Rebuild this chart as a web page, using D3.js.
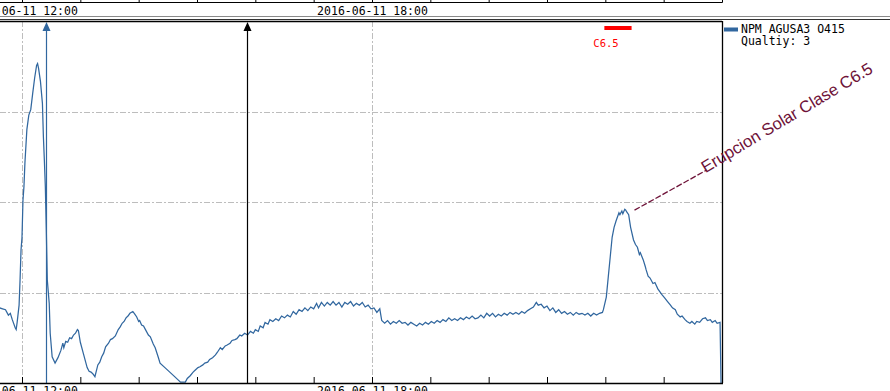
<!DOCTYPE html>
<html>
<head>
<meta charset="utf-8">
<script src="https://cdn.jsdelivr.net/npm/d3@7"></script>
<style>
  html, body { margin: 0; padding: 0; background: #fff; }
  svg { display: block; }
</style>
</head>
<body>
<svg id="chart" width="890" height="391"></svg>
<script>
// ---------- DATA ----------
const day = "2016-06-11";
const times = [
  "11:37","11:40","11:43","11:46","11:48","11:50","11:53","11:54","11:55","11:57",
  "11:58","11:59","12:00","12:01","12:02","12:03","12:05","12:07","12:09","12:11",
  "12:13","12:15","12:16","12:17","12:19","12:21","12:22","12:23","12:24","12:25",
  "12:26","12:28","12:29","12:31","12:34","12:37","12:40","12:42","12:43","12:45",
  "12:47","12:49","12:51","12:53","12:55","12:57","12:58","13:00","13:03","13:07",
  "13:09","13:11","13:13","13:15","13:18","13:20","13:22","13:24","13:26","13:29",
  "13:31","13:33","13:36","13:39","13:41","13:43","13:45","13:47","13:49","13:51",
  "13:54","13:56","13:58","14:00","14:01","14:03","14:05","14:07","14:10","14:12",
  "14:15","14:17","14:20","14:22","14:27","14:32","14:37","14:40","14:43","14:48",
  "14:50","14:53","14:56","14:58","15:01","15:03","15:06","15:08","15:11","15:13",
  "15:16","15:19","15:21","15:24","15:26","15:29","15:31","15:34","15:36","15:39",
  "15:41","15:44","15:46","15:49","15:52","15:55","15:58","16:00","16:03","16:05",
  "16:08","16:10","16:13","16:15","16:18","16:21","16:24","16:27","16:30","16:33",
  "16:36","16:39","16:42","16:45","16:48","16:51","16:54","16:57","17:00","17:03",
  "17:05","17:08","17:11","17:14","17:17","17:20","17:23","17:26","17:29","17:32",
  "17:35","17:38","17:41","17:44","17:47","17:50","17:53","17:56","17:59","18:02",
  "18:05","18:08","18:10","18:13","18:16","18:19","18:22","18:25","18:28","18:31",
  "18:34","18:37","18:40","18:43","18:46","18:49","18:52","18:55","18:58","19:01",
  "19:04","19:07","19:10","19:13","19:16","19:19","19:22","19:25","19:28","19:31",
  "19:34","19:37","19:40","19:43","19:46","19:49","19:52","19:55","19:58","20:01",
  "20:04","20:07","20:10","20:13","20:16","20:19","20:22","20:25","20:28","20:31",
  "20:34","20:37","20:40","20:43","20:46","20:49","20:51","20:54","20:57","21:00",
  "21:03","21:06","21:09","21:12","21:15","21:18","21:21","21:24","21:27","21:30",
  "21:33","21:36","21:39","21:42","21:45","21:48","21:51","21:54","21:57","21:58",
  "22:01","22:03","22:05","22:07","22:09","22:11","22:12","22:14","22:15","22:17",
  "22:18","22:20","22:21","22:22","22:24","22:26","22:29","22:31","22:33","22:35",
  "22:36","22:39","22:41","22:42","22:44","22:46","22:49","22:51","22:54","22:56",
  "22:58","23:01","23:04","23:07","23:09","23:12","23:14","23:17","23:19","23:22",
  "23:24","23:27","23:29","23:32","23:34","23:37","23:40","23:43","23:45","23:48",
  "23:50","23:53","23:55","23:58","23:59"
];
const amplitude = [
  8.3,8.2,8.1,7.5,7.7,7.0,6.1,5.9,6.7,8.6,
  11.4,14.7,16.1,20.2,21.7,24.3,28.0,29.6,30.2,32.0,
  33.7,35.1,35.3,34.8,33.3,30.9,27.2,24.6,21.7,16.9,
  11.4,8.8,5.5,2.9,2.2,2.8,3.6,4.4,3.9,4.6,
  4.5,5.0,4.9,5.3,5.5,5.9,5.8,4.5,3.3,1.7,
  1.3,1.2,1.0,0.7,2.0,2.3,2.9,3.3,4.0,4.4,
  4.8,4.9,5.2,5.9,6.2,6.6,6.8,7.2,7.4,7.7,
  7.9,7.6,7.3,6.8,6.9,6.4,6.3,5.9,5.3,5.1,
  4.3,3.9,2.9,2.2,1.7,1.2,0.7,0.4,0.1,0.1,
  0.5,0.8,1.2,1.4,1.7,1.8,2.0,2.2,2.3,2.6,
  2.8,3.1,3.4,3.9,3.7,4.1,4.2,4.4,4.7,4.8,
  4.9,5.3,5.2,5.5,5.3,5.7,5.5,5.9,5.7,6.3,
  6.1,6.7,6.5,7.0,6.8,7.1,6.9,7.4,7.2,7.5,
  7.3,7.9,7.6,8.1,7.9,8.3,8.0,8.4,8.2,8.8,
  8.3,8.9,8.5,8.9,8.6,9.0,8.6,8.9,8.4,8.9,
  8.7,9.0,8.5,8.8,8.6,8.9,8.4,8.6,8.2,8.3,
  7.8,8.2,6.9,6.6,6.9,6.5,6.8,6.6,6.9,6.6,
  6.7,6.4,6.7,6.5,6.3,6.6,6.4,6.7,6.5,6.8,
  6.6,6.9,6.7,7.0,6.8,7.2,6.9,7.1,6.9,7.2,
  7.0,7.3,7.1,7.4,7.1,7.2,7.5,7.2,7.7,7.4,
  7.7,7.3,7.6,7.4,7.7,7.5,7.8,7.6,7.8,7.6,
  7.9,7.7,8.0,8.2,8.4,8.9,8.6,8.7,8.3,8.5,
  8.0,8.3,7.8,8.1,7.7,7.9,7.6,7.8,7.5,7.8,
  7.6,7.7,7.5,7.7,7.4,7.7,7.5,7.7,7.8,8.1,
  9.5,11.7,13.9,16.1,17.2,17.9,18.2,18.8,18.6,19.0,
  18.7,19.2,19.1,18.9,18.6,17.2,15.8,15.3,15.0,14.2,
  14.4,13.6,12.9,12.5,11.8,11.6,11.0,11.1,10.4,10.1,
  9.8,9.4,9.0,8.6,8.3,8.1,7.6,7.3,7.4,7.0,
  6.8,6.6,6.8,6.5,6.8,6.7,7.1,7.2,6.9,7.0,
  6.7,6.9,6.6,6.7,0.0
];
const seriesName = "NPM AGUSA3 O415";
const qualityLabel = "Qualtiy: 3";
const markerTimes = ["12:25", "15:51"];      // blue, black
const flareStart = "21:59", flareEnd = "22:27";
const flareLabel = "C6.5";
const annotationTime = "22:30", annotationValue = 19.1;
const annotationText = "Erupcion Solar Clase C6.5";
const labelHours = [12, 18];
const yGrid = [10, 20, 30];

// ---------- SETUP ----------
const W = 890, H = 391;
const pL = 0, pR = 722, pT = 21, pB = 383;
const parse = d3.utcParse("%Y-%m-%d %H:%M");
const T = t => parse(day + " " + t);
const fmt = d3.utcFormat("%Y-%m-%d %H:%M");
const mono = "'DejaVu Sans Mono', monospace";
const blue = "#31679f";

const x = d3.scaleUtc()
  .domain([new Date("2016-06-11T11:37:22Z"), new Date("2016-06-12T00:00:00Z")])
  .range([pL, pR]);
const y = d3.scaleLinear().domain([0, 40]).range([pB, pT]);

const svg = d3.select("#chart");
svg.append("rect").attr("width", W).attr("height", H).attr("fill", "#fff");

const data = times.map((t, i) => ({ t: T(t), v: amplitude[i] }));
const hourTicks = d3.utcHour.range(d3.utcHour.ceil(x.domain()[0]), x.domain()[1]);
const labelFmt = d => labelHours.includes(d.getUTCHours()) ? fmt(d) : "";

// ---------- UPPER PANEL REMNANT ----------
const topAxis = d3.axisBottom(x).tickValues(hourTicks).tickSize(-3).tickPadding(5).tickFormat(labelFmt);
const gTop = svg.append("g").attr("transform", "translate(0,2)").call(topAxis);
gTop.select(".domain").remove();
gTop.selectAll(".tick line").attr("stroke", "#000");
gTop.selectAll("text").attr("font-family", mono).attr("font-size", "11.5px").attr("fill", "#000");
svg.append("line").attr("x1", 0).attr("x2", pR + 0.5).attr("y1", 2.5).attr("y2", 2.5).attr("stroke", "#000");
svg.append("line").attr("x1", pR + 0.5).attr("x2", pR + 0.5).attr("y1", 0).attr("y2", 2.5).attr("stroke", "#000");

// separator lines
svg.append("line").attr("x1", 0).attr("x2", W).attr("y1", 16.5).attr("y2", 16.5).attr("stroke", "#8a8a8a");
svg.append("line").attr("x1", 0).attr("x2", W).attr("y1", 19.5).attr("y2", 19.5).attr("stroke", "#333");

// ---------- GRID ----------
const dash = "6,2,2,2";
svg.append("g").selectAll("line").data(yGrid).join("line")
  .attr("x1", pL).attr("x2", pR)
  .attr("y1", d => Math.round(y(d)) + 0.5).attr("y2", d => Math.round(y(d)) + 0.5)
  .attr("stroke", "#bdbdbd").attr("stroke-dasharray", dash);
svg.append("g").selectAll("line").data(hourTicks.filter(d => labelHours.includes(d.getUTCHours()))).join("line")
  .attr("x1", d => Math.round(x(d)) + 0.5).attr("x2", d => Math.round(x(d)) + 0.5)
  .attr("y1", pT).attr("y2", pB)
  .attr("stroke", "#bdbdbd").attr("stroke-dasharray", dash);

// ---------- BOTTOM AXIS ----------
const botAxis = d3.axisBottom(x).tickValues(hourTicks).tickSize(-6).tickPadding(4).tickFormat(labelFmt);
const gBot = svg.append("g").attr("transform", `translate(0,${pB})`).call(botAxis);
gBot.select(".domain").remove();
gBot.selectAll(".tick line").attr("stroke", "#000");
gBot.selectAll("text").attr("font-family", mono).attr("font-size", "11.5px").attr("fill", "#000");

// ---------- SERIES ----------
const line = d3.line().x(d => x(d.t)).y(d => y(d.v));
svg.append("path").datum(data).attr("d", line)
  .attr("fill", "none").attr("stroke", blue).attr("stroke-width", 1.25).attr("stroke-linejoin", "miter");

// ---------- MARKERS ----------
markerTimes.forEach((t, i) => {
  const c = i === 0 ? blue : "#000";
  const mx = Math.round(x(T(t))) + 0.5;
  svg.append("line").attr("x1", mx).attr("x2", mx).attr("y1", pT + 8).attr("y2", pB)
    .attr("stroke", c).attr("stroke-width", 1.2);
  svg.append("path").attr("d", `M${mx},${pT + 1} L${mx - 4},${pT + 10} L${mx + 4},${pT + 10} Z`).attr("fill", c);
});

// ---------- FRAME ----------
svg.append("line").attr("x1", pL).attr("x2", pR).attr("y1", pT + 0.5).attr("y2", pT + 0.5).attr("stroke", "#000").attr("stroke-width", 1.3);
svg.append("line").attr("x1", pL).attr("x2", pR + 1).attr("y1", pB + 0.5).attr("y2", pB + 0.5).attr("stroke", "#000").attr("stroke-width", 1.5);
svg.append("line").attr("x1", pR + 0.5).attr("x2", pR + 0.5).attr("y1", pT).attr("y2", pB).attr("stroke", "#000").attr("stroke-width", 1.3);

// ---------- FLARE BAR ----------
svg.append("rect").attr("x", x(T(flareStart))).attr("y", 26)
  .attr("width", x(T(flareEnd)) - x(T(flareStart))).attr("height", 4).attr("fill", "#ff0000");
svg.append("text").attr("x", x(T(flareStart)) - 11).attr("y", 47).text(flareLabel)
  .attr("font-family", mono).attr("font-size", "10.5px").attr("fill", "#ff0000");

// ---------- ANNOTATION ----------
const ax = x(T(annotationTime)), ay = y(annotationValue);
svg.append("line").attr("x1", ax).attr("y1", ay).attr("x2", ax + 72).attr("y2", ay - 40)
  .attr("stroke", "#6e1238").attr("stroke-width", 1.3).attr("stroke-dasharray", "6,2");
svg.append("text").attr("transform", `translate(${ax + 71},${ay - 37}) rotate(-31)`)
  .text(annotationText).attr("font-family", "'Liberation Sans', Arial, sans-serif")
  .attr("font-size", "16.7px").attr("fill", "#6e1238");

// ---------- LEGEND ----------
svg.append("rect").attr("x", 724).attr("y", 27.5).attr("width", 14).attr("height", 4).attr("fill", blue);
svg.append("text").attr("x", 741).attr("y", 32.5).text(seriesName)
  .attr("font-family", mono).attr("font-size", "11.5px").attr("fill", "#000");
svg.append("text").attr("x", 741).attr("y", 45).text(qualityLabel)
  .attr("font-family", mono).attr("font-size", "11.5px").attr("fill", "#000");
</script>
</body>
</html>
